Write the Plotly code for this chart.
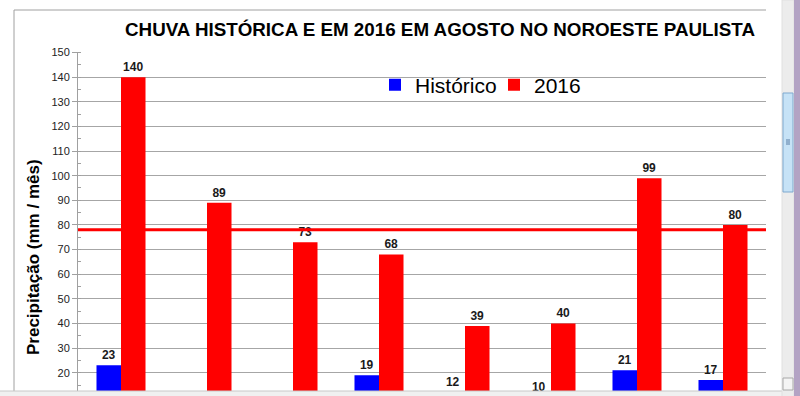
import plotly.graph_objects as go

# ---- data ----
categorias = ["1", "2", "3", "4", "5", "6", "7", "8"]
historico = [23, 3, 2, 19, 12, 10, 21, 17]
chuva_2016 = [140, 89, 73, 68, 39, 40, 99, 80]
media_2016 = 78
y_ticks = [0, 10, 20, 30, 40, 50, 60, 70, 80, 90, 100, 110, 120, 130, 140, 150]

FONT = "Arial, Liberation Sans, sans-serif"
W, H = 800, 440          # page viewport is 396 tall; the chart continues below the window edge
L, R, T, B = 78, 34, 52, 18
pw = W - L - R
ph = H - T - B
GAP = 0.43

def px_x(px):
    return (px - L) / pw

def px_y(py):
    return (H - B - py) / ph

lbl_font = dict(family=FONT, size=12, color="#1a1a1a")
fig = go.Figure()
fig.add_trace(go.Bar(
    x=categorias, y=historico, name="Histórico",
    marker=dict(color="#0000FF", line=dict(width=0)), hoverinfo="skip",
    text=historico, texttemplate="<b>%{text}</b>", textposition="outside",
    textfont=lbl_font, cliponaxis=False, constraintext="none",
))
fig.add_trace(go.Bar(
    x=categorias, y=chuva_2016, name="2016",
    marker=dict(color="#FF0000", line=dict(width=0)), hoverinfo="skip",
    text=chuva_2016, texttemplate="<b>%{text}</b>", textposition="outside",
    textfont=lbl_font, cliponaxis=False, constraintext="none",
))

shapes = [
    # average line
    dict(type="line", xref="x domain", yref="y", x0=0, x1=1,
         y0=media_2016, y1=media_2016, line=dict(color="#FF0000", width=3), layer="above"),
    # chart border (top and left)
    dict(type="line", xref="paper", yref="paper", x0=px_x(14), x1=px_x(766),
         y0=px_y(10), y1=px_y(10), line=dict(color="#a0a0a0", width=1)),
    dict(type="line", xref="paper", yref="paper", x0=px_x(14), x1=px_x(14),
         y0=px_y(10), y1=px_y(391), line=dict(color="#a0a0a0", width=1)),
    # bottom window band
    dict(type="rect", xref="paper", yref="paper", x0=px_x(0), x1=px_x(800),
         y0=px_y(H), y1=px_y(391), fillcolor="#f0f0f0",
         line=dict(width=0), layer="above"),
    dict(type="line", xref="paper", yref="paper", x0=px_x(0), x1=px_x(783),
         y0=px_y(391), y1=px_y(391), line=dict(color="#c8c8c8", width=1), layer="above"),
    # scrollbar track
    dict(type="rect", xref="paper", yref="paper", x0=px_x(782), x1=px_x(794),
         y0=px_y(H), y1=px_y(0), fillcolor="#ececec",
         line=dict(color="#e0e0e0", width=1), layer="above"),
    dict(type="rect", xref="paper", yref="paper", x0=px_x(794), x1=px_x(800),
         y0=px_y(H), y1=px_y(0), fillcolor="#b3a3c4",
         line=dict(width=0), layer="above"),
    # scrollbar thumb
    dict(type="rect", xref="paper", yref="paper", x0=px_x(783), x1=px_x(793),
         y0=px_y(192), y1=px_y(93), fillcolor="#c6e2f6",
         line=dict(color="#7fa9cf", width=1), layer="above"),
    # bottom arrow button
    dict(type="rect", xref="paper", yref="paper", x0=px_x(783), x1=px_x(793),
         y0=px_y(390), y1=px_y(378), fillcolor="#f4f4f4",
         line=dict(color="#a8a8a8", width=1), layer="above"),
]
for gy in (140, 142, 144):
    shapes.append(dict(type="line", xref="paper", yref="paper", x0=px_x(786), x1=px_x(790),
                       y0=px_y(gy), y1=px_y(gy), line=dict(color="#5a7fa6", width=1), layer="above"))

fig.update_layout(
    width=W, height=H,
    margin=dict(l=L, r=R, t=T, b=B),
    paper_bgcolor="white", plot_bgcolor="white",
    barmode="group", bargap=GAP, bargroupgap=0,
    font=dict(family=FONT, color="#222"),
    hovermode=False,
    title=dict(text="<b>CHUVA HISTÓRICA E EM 2016 EM AGOSTO NO NOROESTE PAULISTA</b>",
               x=440 / W, xref="container", xanchor="center",
               y=1 - 29 / H, yref="container", yanchor="middle",
               font=dict(family=FONT, size=18.8, color="#000")),
    legend=dict(orientation="h", x=px_x(375), y=px_y(85), xanchor="left", yanchor="middle",
                font=dict(family=FONT, size=21, color="#000"), bgcolor="rgba(0,0,0,0)",
                itemwidth=30, traceorder="normal", entrywidth=74, entrywidthmode="pixels"),
    xaxis=dict(showticklabels=False, showgrid=False, showline=False, ticks="", zeroline=False,
               automargin=False),
    yaxis=dict(range=[0, 150.2], tickvals=y_ticks, showgrid=True, gridcolor="#a6a6a6",
               gridwidth=1, showline=True, linecolor="#a0a0a0", linewidth=1,
               ticks="outside", ticklen=5, tickcolor="#a0a0a0", automargin=False,
               tickfont=dict(family=FONT, size=11, color="#222"), zeroline=False,
               minor=dict(dtick=5, ticks="inside", ticklen=3, tickcolor="#a0a0a0", showgrid=False)),
    shapes=shapes,
    annotations=[dict(text="<b>Precipitação (mm / mês)</b>", textangle=-90,
                      xref="paper", yref="paper", x=px_x(33), y=px_y(257),
                      xanchor="center", yanchor="middle", showarrow=False,
                      font=dict(family=FONT, size=17, color="#000"))],
)

fig.write_html(
    "out.html",
    config={"displayModeBar": False},
    post_script=(
        "document.documentElement.style.overflow='hidden';"
        "document.body.style.margin='0';"
        "document.body.style.height='396px';"
        "document.body.style.overflow='hidden';"
    ),
)
